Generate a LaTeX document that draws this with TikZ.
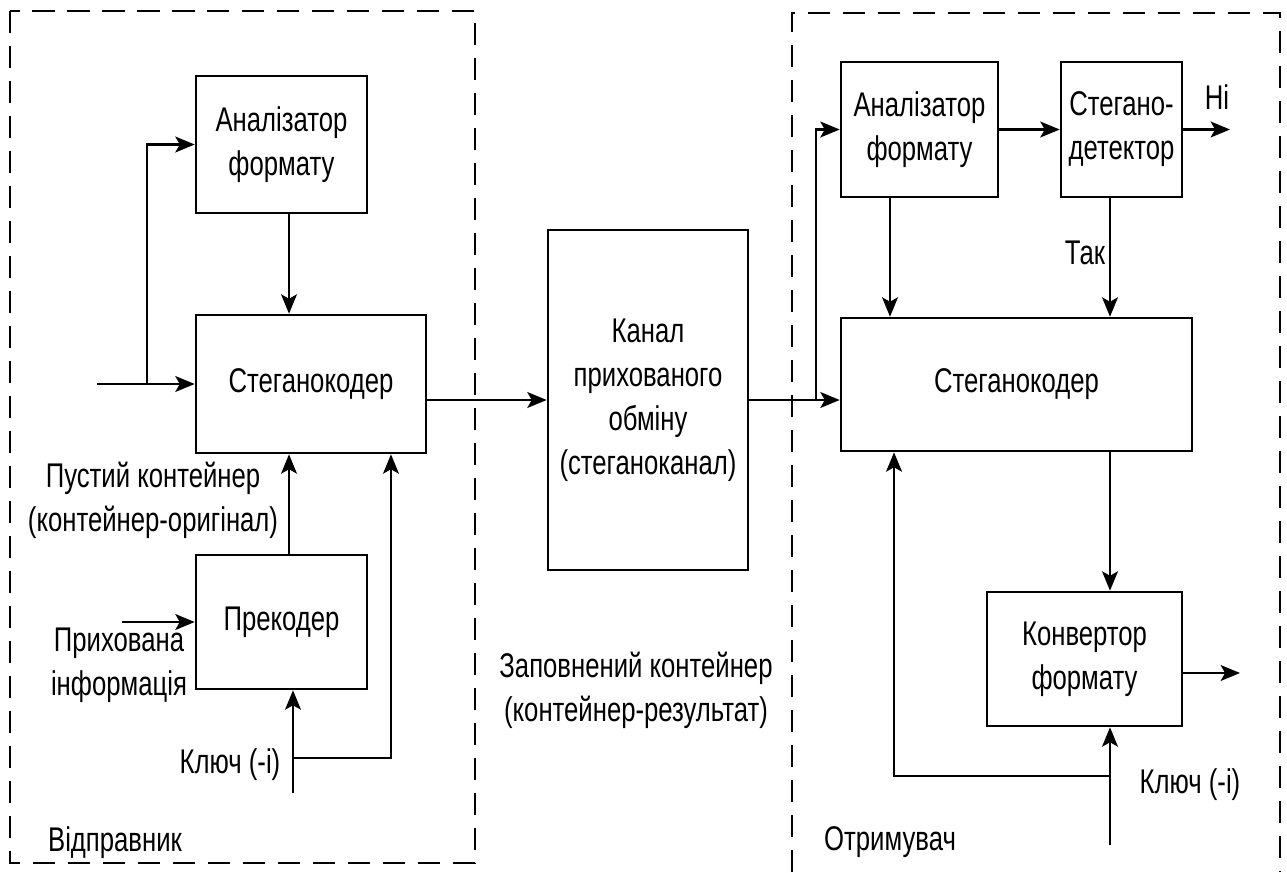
\documentclass[tikz,border=0pt]{standalone}
\usepackage{fontspec}
\setmainfont{Liberation Sans}[FakeStretch=0.75]
\usetikzlibrary{arrows.meta}

\tikzset{
  blok/.style={draw, line width=1.5pt, inner sep=0pt, align=center},
  lbl/.style={inner sep=0pt, align=center},
  arr/.style={line width=1.4pt, -{Stealth[length=11pt,width=9pt,inset=2.5pt]}},
  dashbox/.style={line width=1.4pt, dash pattern=on 0.45cm off 0.25cm}
}

\begin{document}
\begin{tikzpicture}[x=0.02cm,y=-0.02cm,font=\fontsize{19.5}{25}\selectfont]
\useasboundingbox (0,0) rectangle (1287,872);

% frames
\draw[dashbox] (10,11) rectangle (475,863);
\draw[dashbox] (792,872) |- (1280,13) -- (1280,872);

% sender
\node[blok, minimum width=3.42cm, minimum height=2.74cm] (anlzL) at (281.5,144.5) {Аналізатор\\формату};
\node[blok, minimum width=4.60cm, minimum height=2.76cm] (codL) at (311,384) {Стеганокодер};
\node[blok, minimum width=3.42cm, minimum height=2.68cm] (prec) at (281.5,622) {Прекодер};

% channel
\node[blok, minimum width=4.00cm, minimum height=6.80cm] (chan) at (648,400) {Канал\\прихованого\\обміну\\(стеганоканал)};

% receiver
\node[blok, minimum width=3.14cm, minimum height=2.70cm] (anlzR) at (919.5,129.5) {Аналізатор\\формату};
\node[blok, minimum width=2.42cm, minimum height=2.70cm] (det) at (1121.5,129.5) {Стегано-\\детектор};
\node[blok, minimum width=7.02cm, minimum height=2.66cm] (codR) at (1016.5,384.5) {Стеганокодер};
\node[blok, minimum width=3.90cm, minimum height=2.68cm] (conv) at (1084.5,659) {Конвертор\\формату};

% labels
\node[lbl] (empty) at (153,500) {Пустий контейнер\\(контейнер-оригінал)};
\node[lbl] (info) at (119,665) {Прихована\\інформація};
\node[lbl] (keyLtxt) at (230,765) {Ключ (-і)};
\node[lbl] (sender) at (115,843) {Відправник};
\node[lbl] (filled) at (636,690) {Заповнений контейнер\\(контейнер-результат)};
\node[lbl] (keyRtxt) at (1190,785) {Ключ (-і)};
\node[lbl] (receiver) at (890,842) {Отримувач};
\node[lbl] (no) at (1217,97) {Ні};
\node[lbl] (yes) at (1085,253) {Так};

% free ends
\coordinate (inL) at (97,384);
\coordinate (brL) at (147,384);
\coordinate (infL) at (122,622);
\coordinate (keyL) at (293,793);
\coordinate (kbrL) at (293,758);
\coordinate (brR) at (816,400);
\coordinate (outNo) at (1230,129.5);
\coordinate (outConv) at (1240,673);
\coordinate (keyR) at (1110,845);
\coordinate (kbrR) at (1110,776);

% sender connectors
\draw[arr] (inL) -- (codL.west);
\draw[arr] (brL) |- (anlzL.west);
\draw[arr] ([xshift=0.15cm]anlzL.south) -- ([xshift=0.15cm]anlzL.south |- codL.north);
\draw[arr] ([xshift=0.15cm]prec.north) -- ([xshift=0.15cm]prec.north |- codL.south);
\draw[arr] (infL) -- (prec.west);
\draw[arr] (keyL) -- (keyL |- prec.south);
\draw[arr] (kbrL) -| ([xshift=1.6cm]codL.south);
\draw[arr] (codL.east |- chan.west) -- (chan.west);

% receiver connectors
\draw[arr] (chan.east) -- (chan.east -| codR.west);
\draw[arr] (brR) |- (anlzR.west);
\draw[arr] (anlzR.east) -- (det.west);
\draw[arr] (det.east) -- (outNo);
\draw[arr] ([xshift=-0.59cm]anlzR.south) -- ([xshift=-0.59cm]anlzR.south |- codR.north);
\draw[arr] ([xshift=-0.23cm]det.south) -- ([xshift=-0.23cm]det.south |- codR.north);
\draw[arr] ([xshift=0.51cm]conv.north |- codR.south) -- ([xshift=0.51cm]conv.north);
\draw[arr] (conv.east |- outConv) -- (outConv);
\draw[arr] (keyR) -- (keyR |- conv.south);
\draw[arr] (kbrR) -| ([xshift=-2.45cm]codR.south);
\end{tikzpicture}
\end{document}
